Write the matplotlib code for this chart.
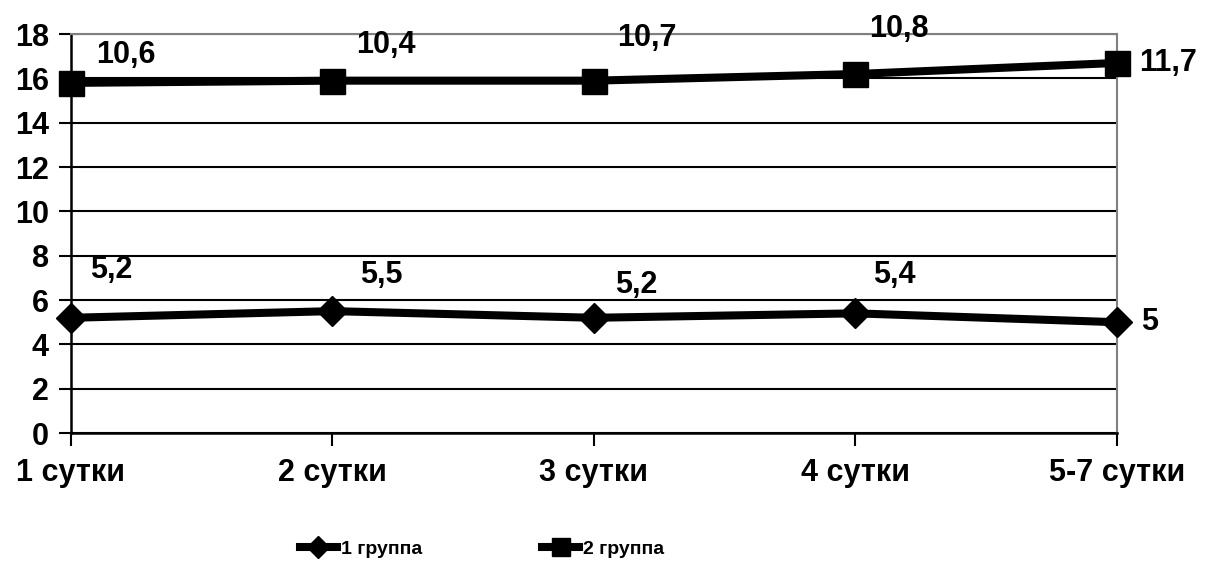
import matplotlib
matplotlib.use("Agg")
import matplotlib.pyplot as plt
import numpy as np

plt.rcParams['font.family'] = ['Liberation Sans', 'DejaVu Sans']
plt.rcParams['font.weight'] = 'bold'

categories = ["1 сутки", "2 сутки", "3 сутки", "4 сутки", "5-7 сутки"]
group1 = [5.2, 5.5, 5.2, 5.4, 5.0]
group2 = [10.6, 10.4, 10.7, 10.8, 11.7]
series_names = ["1 группа", "2 группа"]

# label offsets in pixels (label placement as in the original)
off_g1 = [(40, 48), (49, 36), (42, 33), (39, 38), (24, 0)]
off_g2 = [(55, 28), (53, 36), (53, 43), (44, 45), (22, 0)]

# stacked line chart: group 2 drawn on top of group 1
g1 = np.array(group1)
g2_stacked = g1 + np.array(group2)

def fmt(v):
    s = ("%.1f" % v).rstrip("0").rstrip(".")
    return s.replace(".", ",")

fig = plt.figure(figsize=(12.05, 5.69), dpi=100)
ax = fig.add_axes([0.0589, 0.239, 0.868, 0.701])

x = np.arange(len(categories))
ax.plot(x, g1, color="black", lw=5.8, marker="D", ms=15, label=series_names[0],
        clip_on=False, zorder=3)
ax.plot(x, g2_stacked, color="black", lw=5.8, marker="s", ms=18, label=series_names[1],
        clip_on=False, zorder=3)

for i in range(len(x)):
    last = i == len(x) - 1
    ax.annotate(fmt(group1[i]), (x[i], g1[i]), xytext=off_g1[i], textcoords="offset pixels",
                ha="left" if last else "center", va="center", fontsize=22, fontweight="bold")
    ax.annotate(fmt(group2[i]), (x[i], g2_stacked[i]), xytext=off_g2[i], textcoords="offset pixels",
                ha="left" if last else "center", va="center", fontsize=22, fontweight="bold")

ax.set_xlim(0, len(categories) - 1)
ax.set_ylim(0, 18)
ax.set_yticks(np.arange(0, 19, 2))
ax.set_xticks(x)
ax.set_xticklabels(categories)
ax.tick_params(axis="both", labelsize=22, width=1.5, length=9, direction="out", colors="black")
ax.tick_params(axis="x", pad=9)
ax.tick_params(axis="y", pad=7)
for lbl in ax.get_xticklabels() + ax.get_yticklabels():
    lbl.set_fontweight("bold")

ax.grid(axis="y", color="black", lw=1.5)
ax.set_axisbelow(True)
ax.spines["left"].set_linewidth(1.8)
ax.spines["bottom"].set_linewidth(1.8)
ax.spines["top"].set_color("gray")
ax.spines["right"].set_color("gray")
ax.spines["top"].set_linewidth(1.5)
ax.spines["right"].set_linewidth(1.5)

leg = fig.legend(loc="center", bbox_to_anchor=(0.4, 0.035), ncol=2, frameon=False,
                 prop={"size": 14, "weight": "bold"}, handlelength=1.9, handletextpad=0.2,
                 columnspacing=6.2, markerscale=0.75)

fig.savefig("out.png", dpi=100)
